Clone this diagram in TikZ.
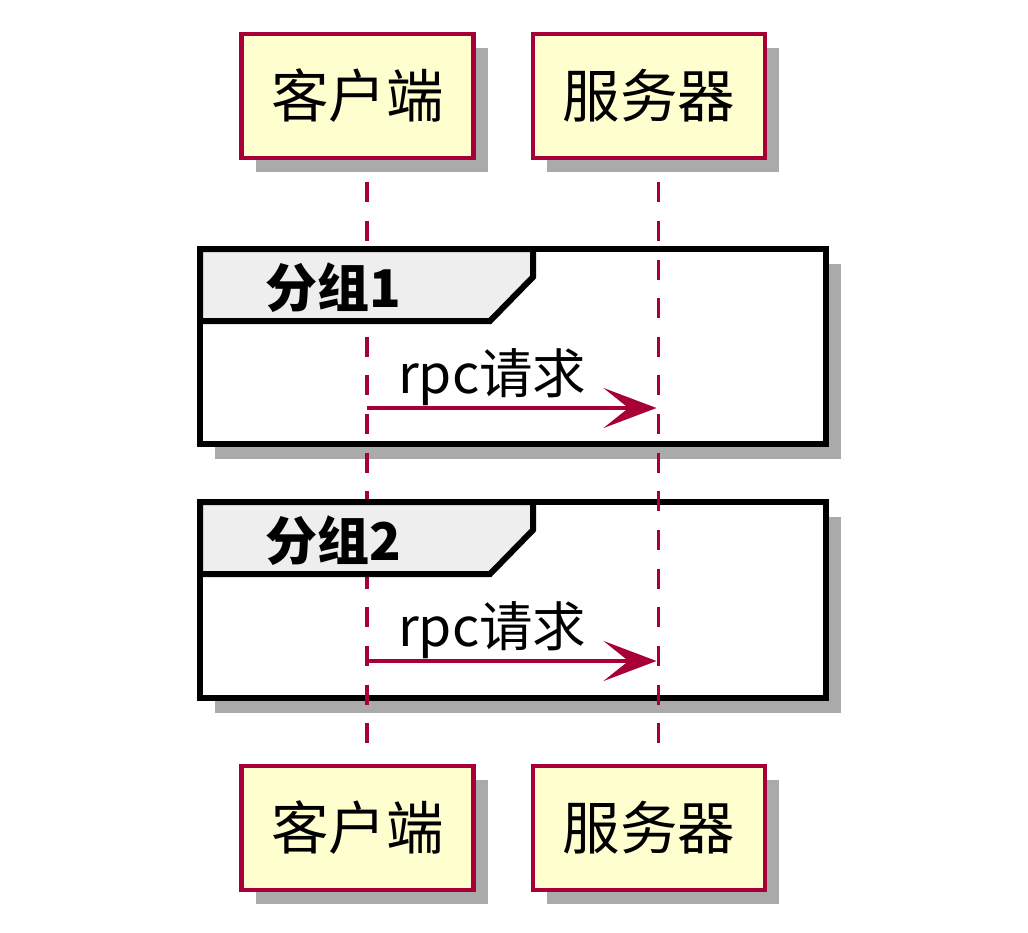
\documentclass[tikz,border=0pt]{standalone}
\usepackage{fontspec}
\setmainfont{Noto Sans CJK SC}
\usetikzlibrary{arrows.meta,shadows}
\definecolor{crim}{HTML}{A80036}
\definecolor{pfill}{HTML}{FEFECE}
\definecolor{shgray}{HTML}{AAAAAA}
\definecolor{tabfill}{HTML}{EEEEEE}
\tikzset{
  participant/.style={draw=crim, line width=4.5pt, fill=pfill, minimum width=232pt, minimum height=124pt,
    inner sep=0pt, font=\fontsize{57.5}{60}\selectfont, text=black,
    drop shadow={shadow xshift=14pt, shadow yshift=-14pt, fill=shgray, opacity=1}},
  frame/.style={draw=black, line width=6pt, fill=white,
    drop shadow={shadow xshift=15pt, shadow yshift=-15pt, fill=shgray, opacity=1}},
  tab/.style={draw=black, line width=6pt, fill=tabfill, line join=miter},
  grouplabel/.style={anchor=base west, inner sep=0pt, font=\bfseries\fontsize{52}{56}\selectfont},
  lifeline/.style={draw=crim, line width=3.5pt, dash pattern=on 20pt off 18.64pt},
  msg/.style={draw=crim, line width=3.5pt, -{Stealth[length=53pt, width=40pt, inset=25pt]}, shorten >=2pt},
  msglabel/.style={anchor=base west, inner sep=0pt, font=\fontsize{53.5}{56}\selectfont},
}
\begin{document}
\begin{tikzpicture}[x=1pt,y=-1pt]
\fill[white] (0,0) rectangle (1028,932);
\useasboundingbox (0,0) rectangle (1028,932);
% groups
\draw[frame] (200,249) rectangle (826,444);
\draw[frame] (200,502) rectangle (826,698);
% participants
\node[participant] (ctop) at (357.5,96) {客户端};
\node[participant] (stop) at (649,96) {服务器};
\node[participant] (cbot) at (357.5,828) {客户端};
\node[participant] (sbot) at (649,828) {服务器};
% lifelines
\coordinate (cl) at ([xshift=9.5pt]ctop.south);
\coordinate (sl) at ([xshift=9.5pt]stop.south);
\coordinate (clb) at ([xshift=9.5pt]cbot.north);
\coordinate (slb) at ([xshift=9.5pt]sbot.north);
\draw[lifeline] ([yshift=-22pt]cl) -- ([yshift=20pt]clb);
\draw[lifeline] ([yshift=-22pt]sl) -- ([yshift=20pt]slb);
% tabs
\draw[tab] (200,249) -- (533,249) -- (533,277) -- (490,321) -- (200,321) -- cycle;
\draw[tab] (200,502) -- (533,502) -- (533,530) -- (490,574) -- (200,574) -- cycle;
\node[grouplabel] (g1) at (265,307) {分组1};
\node[grouplabel] (g2) at (265,560) {分组2};
% messages
\draw[msg] (cl |- 0,408) -- (sl |- 0,408);
\node[msglabel] (m1) at (398,393) {rpc请求};
\draw[msg] (cl |- 0,661) -- (sl |- 0,661);
\node[msglabel] (m2) at (398,646) {rpc请求};
\end{tikzpicture}
\end{document}
